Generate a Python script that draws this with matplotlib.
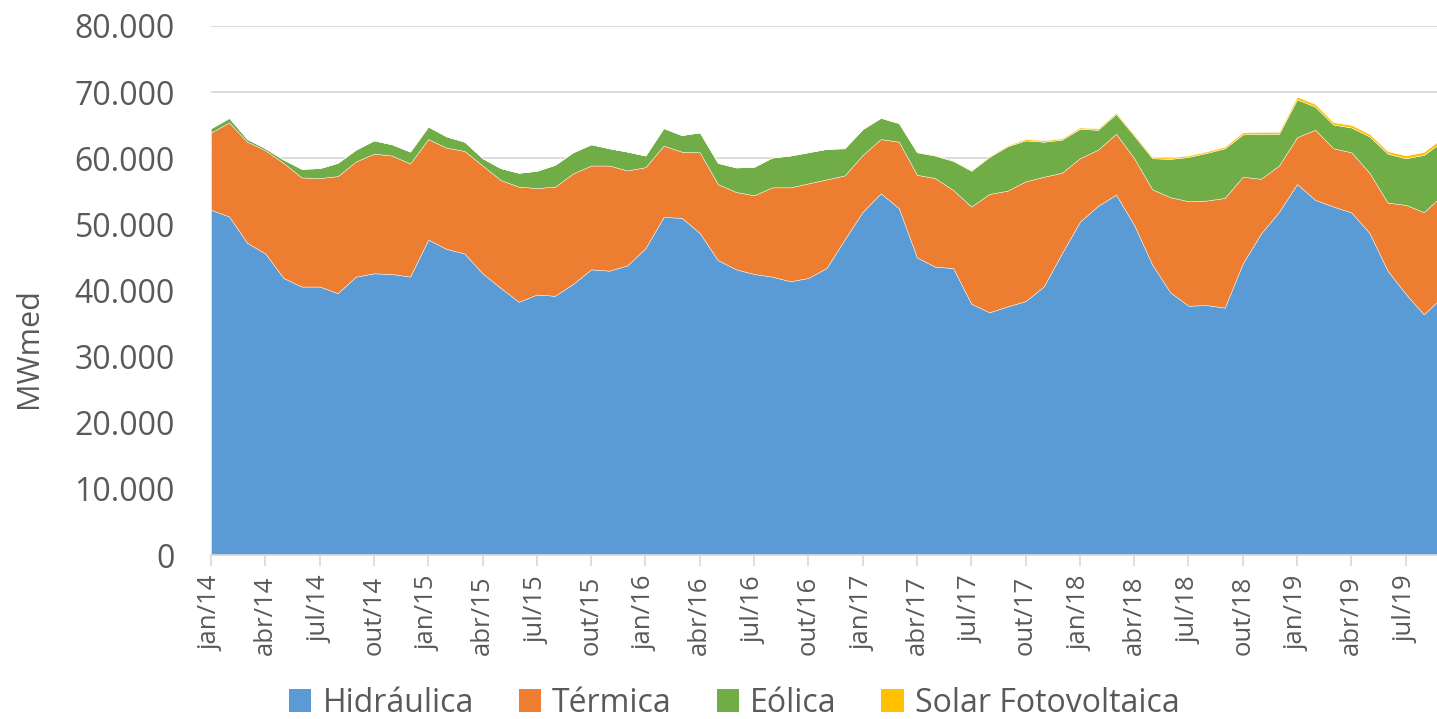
import matplotlib
matplotlib.use("Agg")
import matplotlib.pyplot as plt
from matplotlib.patches import Patch
from matplotlib.ticker import FuncFormatter
import numpy as np

# Monthly generation by source (MWmed), jan/14 .. sep/19
months_pt = ["jan", "fev", "mar", "abr", "mai", "jun", "jul", "ago", "set", "out", "nov", "dez"]
periods = ["%s/%02d" % (months_pt[i % 12], 14 + i // 12) for i in range(69)]

hidraulica = [52200, 51200, 47200, 45600, 41900, 40600, 40600, 39600, 42100, 42600, 42500, 42100,
              47700, 46300, 45600, 42600, 40400, 38300, 39400, 39200, 41000, 43200, 43000, 43800,
              46400, 51100, 51000, 48700, 44600, 43200, 42500, 42100, 41400, 41900, 43400, 47700,
              51900, 54700, 52450, 45000, 43600, 43400, 38000, 36700, 37600, 38400, 40600, 45600,
              50400, 52800, 54500, 49900, 43900, 39700, 37700, 37800, 37400, 44100, 48600, 51900,
              56100, 53700, 52700, 51800, 48700, 43000, 39500, 36400, 39000]

termica = [11700, 14200, 15300, 15600, 17400, 16500, 16400, 17700, 17400, 18100, 17900, 17100,
           15200, 15300, 15500, 16300, 16300, 17400, 16100, 16500, 16700, 15700, 15900, 14350,
           12250, 10800, 10000, 12200, 11500, 11700, 11900, 13500, 14200, 14300, 13400, 9700,
           8600, 8200, 10050, 12500, 13400, 11800, 14700, 17900, 17500, 18100, 16600, 12200,
           9600, 8500, 9200, 10100, 11400, 14400, 15800, 15800, 16600, 13100, 8300, 7000,
           7100, 10600, 8800, 9100, 9100, 10300, 13450, 15450, 15350]

eolica = [650, 700, 400, 300, 500, 1300, 1500, 2000, 1800, 2000, 1700, 1800,
          1900, 1700, 1400, 1100, 1800, 2100, 2600, 3300, 3200, 3200, 2600, 2850,
          1750, 2650, 2500, 3000, 3200, 3700, 4300, 4500, 4800, 4700, 4600, 4100,
          3900, 3200, 2800, 3400, 3400, 4400, 5400, 5600, 6700, 6200, 5300, 5000,
          4450, 3000, 3000, 3400, 4700, 5800, 6700, 7200, 7500, 6400, 6800, 4800,
          5700, 3500, 3600, 3750, 5500, 7400, 7050, 8650, 8150]

solar = [0, 0, 0, 0, 0, 0, 0, 0, 0, 0, 0, 0,
         0, 0, 0, 0, 0, 0, 0, 0, 0, 0, 0, 0,
         10, 10, 10, 15, 15, 20, 20, 25, 25, 30, 30, 35,
         40, 45, 50, 60, 70, 80, 100, 120, 150, 200, 200, 200,
         200, 200, 200, 200, 200, 200, 220, 220, 240, 300, 280, 280,
         400, 400, 350, 380, 380, 380, 420, 450, 500]

series_names = ["Hidráulica", "Térmica", "Eólica", "Solar Fotovoltaica"]
series_colors = ["#5B9BD5", "#ED7D31", "#70AD47", "#FFC000"]

text_color = "#595959"
plt.rcParams["font.family"] = ["Open Sans", "DejaVu Sans"]

fig = plt.figure(figsize=(14.37, 7.19), dpi=100)
ax = fig.add_axes([211 / 1437, 1 - 555 / 719, 1226 / 1437, 529 / 719])

x = np.arange(len(periods))
ax.stackplot(x, hidraulica, termica, eolica, solar, colors=series_colors,
             edgecolor="white", linewidth=0.3, zorder=2)

# Gridlines
ax.set_ylim(0, 80000)
ax.set_yticks(np.arange(0, 80001, 10000))
ax.yaxis.grid(True, color="#D9D9D9", linewidth=1.3, zorder=0)
ax.set_axisbelow(True)
ax.yaxis.set_major_formatter(FuncFormatter(lambda v, p: ("{:,.0f}".format(v)).replace(",", ".")))

ax.set_xlim(0, 67.73)
ax.set_xticks(x[::3])
ax.set_xticklabels(periods[::3], rotation=90, fontsize=18.5, color=text_color)
ax.tick_params(axis="x", length=8, width=1.2, color="#D9D9D9", pad=7)
ax.tick_params(axis="y", length=0, pad=26, labelsize=23, labelcolor=text_color)

for side in ["top", "right", "left"]:
    ax.spines[side].set_visible(False)
ax.spines["bottom"].set_color("#D9D9D9")
ax.spines["bottom"].set_linewidth(1.3)

ax.set_ylabel("MWmed", fontsize=22, color=text_color)
ax.yaxis.set_label_coords((44 - 211) / 1226, (555 - 348) / 529)

handles = [Patch(facecolor=c, edgecolor="none") for c in series_colors]
fig.legend(handles, series_names, loc="center", bbox_to_anchor=(0.511, 1 - 703 / 719),
           ncol=4, frameon=False, fontsize=23, labelcolor=text_color,
           handlelength=0.7, handleheight=0.7, handletextpad=0.35, columnspacing=1.4,
           borderpad=0)

fig.savefig("out.png", dpi=100)
